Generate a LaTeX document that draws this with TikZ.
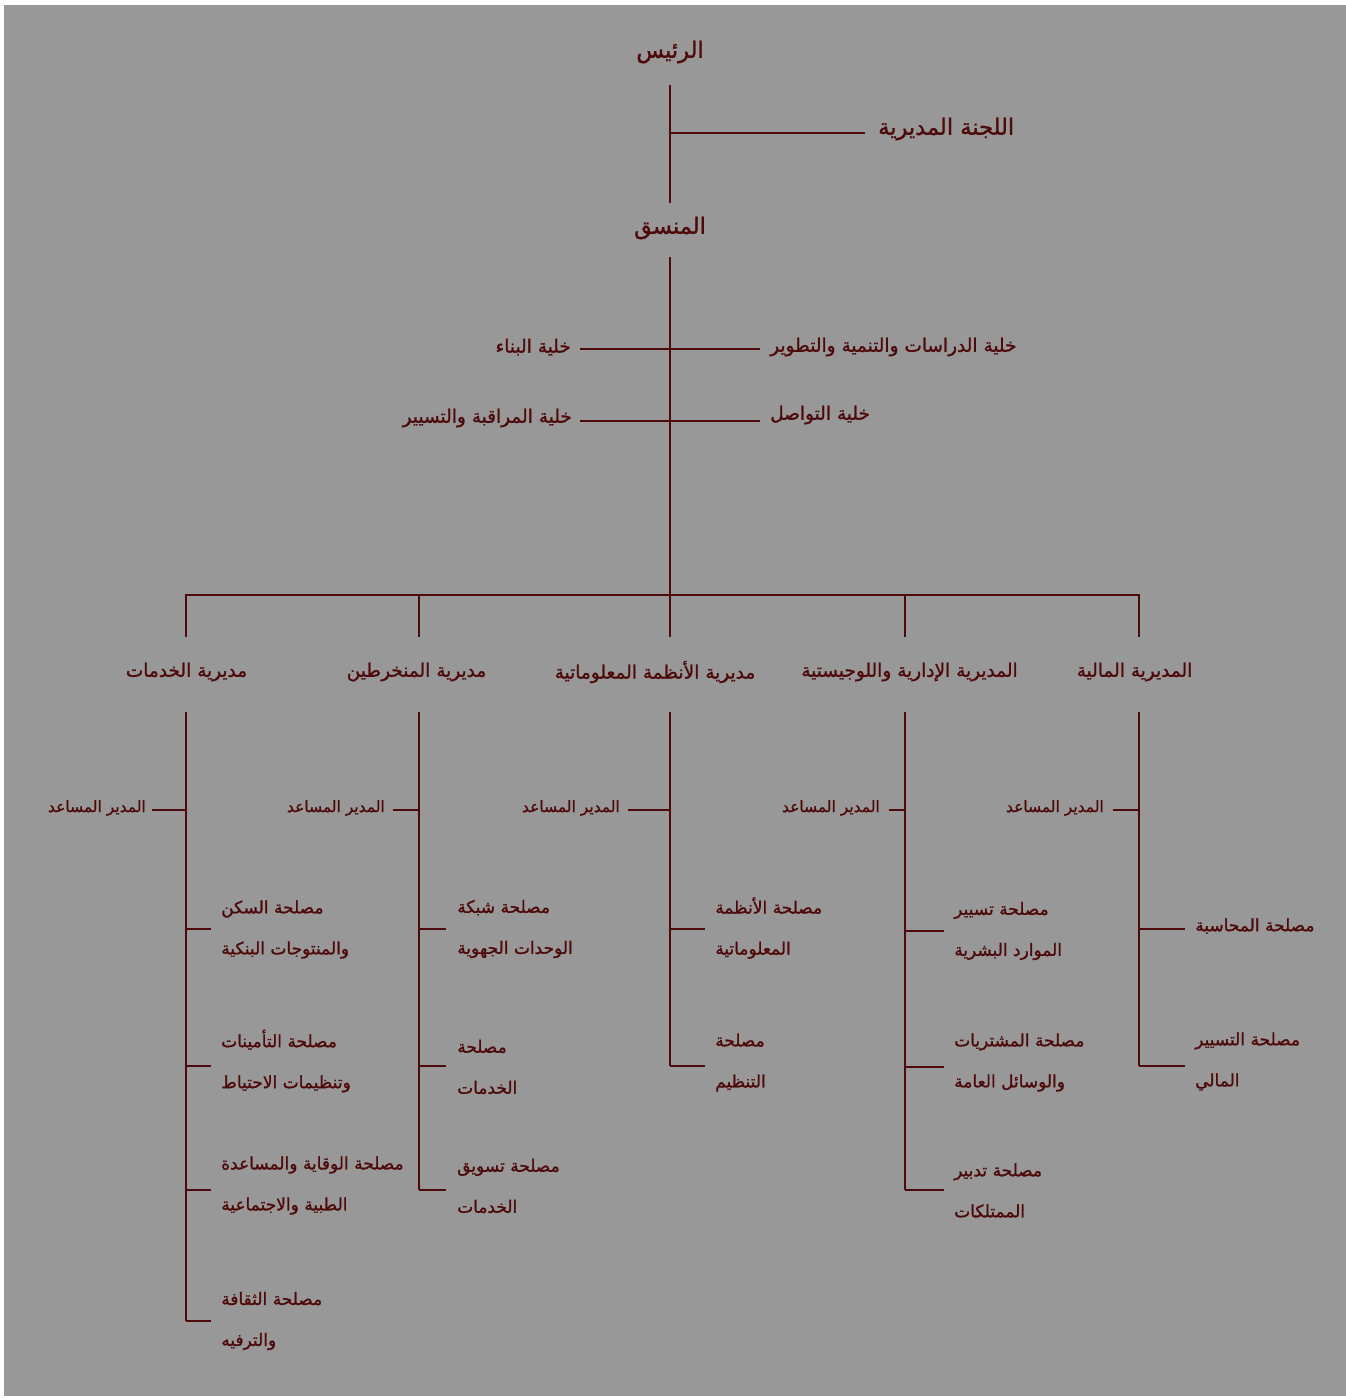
\documentclass[tikz,border=0pt]{standalone}
\usepackage{fontspec}
\newfontfamily\arabicfont[Script=Arabic, BoldFont={DejaVu Sans}, BoldFeatures={FakeBold=1.2}]{DejaVu Sans}
\TeXXeTstate=1
\definecolor{bgc}{RGB}{152,152,152}
\definecolor{ink}{RGB}{78,10,10}
\newcommand\rtltext[1]{\beginR #1\endR}
\tikzset{
  ln/.style={draw=ink, line width=1.7pt},
  basetext/.style={text=ink, inner sep=0pt},
  toplbl/.style={basetext, font=\arabicfont\bfseries\fontsize{22.5}{27}\selectfont},
  celllbl/.style={basetext, font=\arabicfont\bfseries\fontsize{18.5}{22}\selectfont},
  dirlbl/.style={basetext, font=\arabicfont\bfseries\fontsize{18.5}{22}\selectfont},
  asstlbl/.style={basetext, anchor=east, font=\arabicfont\bfseries\fontsize{15.5}{19}\selectfont},
  itemlbl/.style={basetext, anchor=west, align=left, font=\arabicfont\bfseries\fontsize{17}{41}\selectfont},
}
\begin{document}
\begin{tikzpicture}[x=1pt,y=-1pt]
\useasboundingbox (0,0) rectangle (1346,1398);
\fill[white] (0,0) rectangle (1346,1398);
\fill[bgc] (4,5) rectangle (1346,1396);

% top levels
\node[toplbl] (pres) at (670,52) {\rtltext{الرئيس}};
\node[toplbl, anchor=west] (comm) at (878,129) {\rtltext{اللجنة المديرية}};
\node[toplbl] (coord) at (670,228) {\rtltext{المنسق}};
\coordinate (p0) at (670,85);
\coordinate (p1) at (670,133);
\coordinate (p2) at (670,203);
\coordinate (p3) at (865,133);
\draw[ln] (p0) -- (p2);
\draw[ln] (p1) -- (p3);

% cells
\node[celllbl, anchor=west] (cR1) at (770,347) {\rtltext{خلية الدراسات والتنمية والتطوير}};
\node[celllbl, anchor=east] (cL1) at (571,347) {\rtltext{خلية البناء}};
\node[celllbl, anchor=west] (cR2) at (770,415) {\rtltext{خلية التواصل}};
\node[celllbl, anchor=east] (cL2) at (572,418) {\rtltext{خلية المراقبة والتسيير}};
\coordinate (q0) at (670,257);
\coordinate (q1) at (670,596);
\coordinate (h1l) at (580,349);
\coordinate (h1r) at (760,349);
\coordinate (h2l) at (580,421);
\coordinate (h2r) at (760,421);
\draw[ln] (q0) -- (q1);
\draw[ln] (h1l) -- (h1r);
\draw[ln] (h2l) -- (h2r);

% bus
\coordinate (b1) at (186,595);
\coordinate (b2) at (419,595);
\coordinate (b3) at (670,595);
\coordinate (b4) at (905,595);
\coordinate (b5) at (1139,595);
\coordinate (t1) at (186,637);
\coordinate (t2) at (419,637);
\coordinate (t3) at (670,637);
\coordinate (t4) at (905,637);
\coordinate (t5) at (1139,637);
\draw[ln] (t1) -- (b1) -- (b5) -- (t5);
\draw[ln] (b2) -- (t2);
\draw[ln] (b3) -- (t3);
\draw[ln] (b4) -- (t4);

% directorates
\node[dirlbl] (d1) at (186.5,672) {\rtltext{مديرية الخدمات}};
\node[dirlbl] (d2) at (416.5,672) {\rtltext{مديرية المنخرطين}};
\node[dirlbl] (d3) at (655,672) {\rtltext{مديرية الأنظمة المعلوماتية}};
\node[dirlbl] (d4) at (909.5,672) {\rtltext{المديرية الإدارية واللوجيستية}};
\node[dirlbl] (d5) at (1134.5,672) {\rtltext{المديرية المالية}};

% column verticals
\coordinate (v1a) at (186,712); \coordinate (v1b) at (186,1321);
\coordinate (v2a) at (419,712); \coordinate (v2b) at (419,1190);
\coordinate (v3a) at (670,712); \coordinate (v3b) at (670,1066);
\coordinate (v4a) at (905,712); \coordinate (v4b) at (905,1190);
\coordinate (v5a) at (1139,712); \coordinate (v5b) at (1139,1066);
\draw[ln] (v1a) -- (v1b);
\draw[ln] (v2a) -- (v2b);
\draw[ln] (v3a) -- (v3b);
\draw[ln] (v4a) -- (v4b);
\draw[ln] (v5a) -- (v5b);

% assistant directors
\node[asstlbl] (a1) at (146,808) {\rtltext{المدير المساعد}};
\node[asstlbl] (a2) at (385,808) {\rtltext{المدير المساعد}};
\node[asstlbl] (a3) at (620,808) {\rtltext{المدير المساعد}};
\node[asstlbl] (a4) at (880,808) {\rtltext{المدير المساعد}};
\node[asstlbl] (a5) at (1104,808) {\rtltext{المدير المساعد}};
\coordinate (a1r) at (186,810); \coordinate (a1l) at (152,810);
\coordinate (a2r) at (419,810); \coordinate (a2l) at (393,810);
\coordinate (a3r) at (670,810); \coordinate (a3l) at (628,810);
\coordinate (a4r) at (905,810); \coordinate (a4l) at (889,810);
\coordinate (a5r) at (1139,810); \coordinate (a5l) at (1113,810);
\draw[ln] (a1r) -- (a1l);
\draw[ln] (a2r) -- (a2l);
\draw[ln] (a3r) -- (a3l);
\draw[ln] (a4r) -- (a4l);
\draw[ln] (a5r) -- (a5l);

% column 1 items
\node[itemlbl] (s11) at (221,929.5) {\rtltext{مصلحة السكن}\\\rtltext{والمنتوجات البنكية}};
\node[itemlbl] (s12) at (221,1061) {\rtltext{مصلحة التأمينات}\\\rtltext{وتنظيمات الاحتياط}};
\node[itemlbl] (s13) at (221,1185.5) {\rtltext{مصلحة الوقاية والمساعدة}\\\rtltext{الطبية والاجتماعية}};
\node[itemlbl] (s14) at (221,1321) {\rtltext{مصلحة الثقافة}\\\rtltext{والترفيه}};
\coordinate (k11a) at (186,929); \coordinate (k11b) at (211,929);
\coordinate (k12a) at (186,1066); \coordinate (k12b) at (211,1066);
\coordinate (k13a) at (186,1190); \coordinate (k13b) at (211,1190);
\coordinate (k14a) at (186,1321); \coordinate (k14b) at (211,1321);
\draw[ln] (k11a) -- (k11b);
\draw[ln] (k12a) -- (k12b);
\draw[ln] (k13a) -- (k13b);
\draw[ln] (k14a) -- (k14b);

% column 2 items
\node[itemlbl] (s21) at (457,929) {\rtltext{مصلحة شبكة}\\\rtltext{الوحدات الجهوية}};
\node[itemlbl] (s22) at (457,1067) {\rtltext{مصلحة}\\\rtltext{الخدمات}};
\node[itemlbl] (s23) at (457,1186) {\rtltext{مصلحة تسويق}\\\rtltext{الخدمات}};
\coordinate (k21a) at (419,929); \coordinate (k21b) at (446,929);
\coordinate (k22a) at (419,1066); \coordinate (k22b) at (446,1066);
\coordinate (k23a) at (419,1190); \coordinate (k23b) at (446,1190);
\draw[ln] (k21a) -- (k21b);
\draw[ln] (k22a) -- (k22b);
\draw[ln] (k23a) -- (k23b);

% column 3 items
\node[itemlbl] (s31) at (715,928) {\rtltext{مصلحة الأنظمة}\\\rtltext{المعلوماتية}};
\node[itemlbl] (s32) at (715,1062.5) {\rtltext{مصلحة}\\\rtltext{التنظيم}};
\coordinate (k31a) at (670,929); \coordinate (k31b) at (705,929);
\coordinate (k32a) at (670,1066); \coordinate (k32b) at (705,1066);
\draw[ln] (k31a) -- (k31b);
\draw[ln] (k32a) -- (k32b);

% column 4 items
\node[itemlbl] (s41) at (954,931) {\rtltext{مصلحة تسيير}\\\rtltext{الموارد البشرية}};
\node[itemlbl] (s42) at (954,1062.5) {\rtltext{مصلحة المشتريات}\\\rtltext{والوسائل العامة}};
\node[itemlbl] (s43) at (954,1190.5) {\rtltext{مصلحة تدبير}\\\rtltext{الممتلكات}};
\coordinate (k41a) at (905,931); \coordinate (k41b) at (944,931);
\coordinate (k42a) at (905,1067); \coordinate (k42b) at (944,1067);
\coordinate (k43a) at (905,1190); \coordinate (k43b) at (944,1190);
\draw[ln] (k41a) -- (k41b);
\draw[ln] (k42a) -- (k42b);
\draw[ln] (k43a) -- (k43b);

% column 5 items
\node[itemlbl] (s51) at (1195,926) {\rtltext{مصلحة المحاسبة}};
\node[itemlbl] (s52) at (1195,1061.5) {\rtltext{مصلحة التسيير}\\\rtltext{المالي}};
\coordinate (k51a) at (1139,929); \coordinate (k51b) at (1185,929);
\coordinate (k52a) at (1139,1066); \coordinate (k52b) at (1185,1066);
\draw[ln] (k51a) -- (k51b);
\draw[ln] (k52a) -- (k52b);
\end{tikzpicture}
\end{document}
